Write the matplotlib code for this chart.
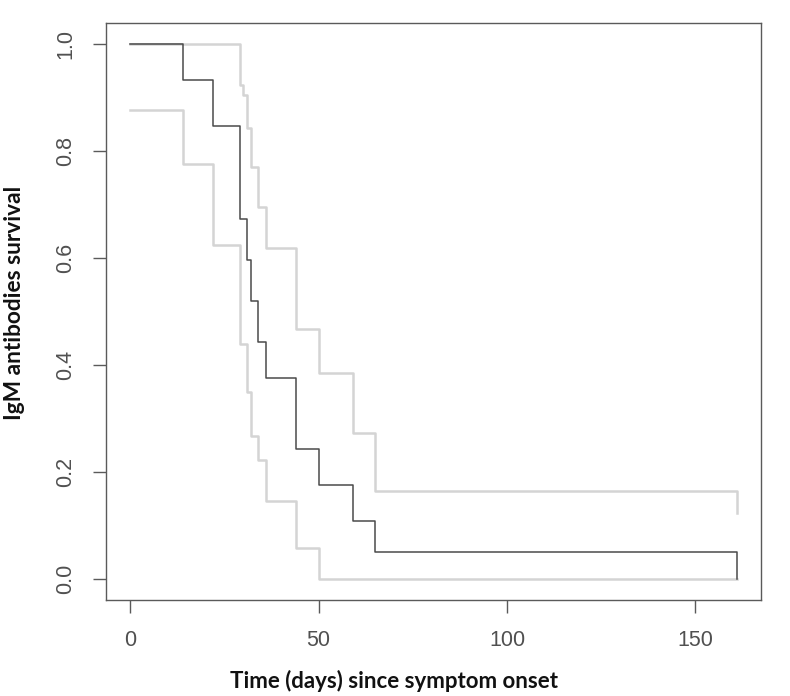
import matplotlib
matplotlib.use("Agg")
import matplotlib.pyplot as plt

# Kaplan-Meier estimate of IgM antibody persistence
km_days = [0, 14, 22, 29, 31, 32, 34, 36, 44, 50, 59, 65, 161, 161]
km_surv = [1.0, 0.933, 0.846, 0.672, 0.596, 0.520, 0.443, 0.376, 0.243, 0.175, 0.108, 0.049, 0.049, 0.0]

upper_days = [0, 29, 30, 31, 32, 34, 36, 44, 50, 59, 65, 161, 161]
upper_surv = [1.0, 0.923, 0.905, 0.842, 0.770, 0.695, 0.619, 0.467, 0.384, 0.273, 0.163, 0.163, 0.123]

lower_days = [0, 14, 22, 29, 31, 32, 34, 36, 44, 50, 161]
lower_surv = [0.877, 0.776, 0.624, 0.439, 0.349, 0.267, 0.221, 0.146, 0.057, 0.0, 0.0]

x_ticks = [0, 50, 100, 150]
y_ticks = [0.0, 0.2, 0.4, 0.6, 0.8, 1.0]

axis_col = "#5a5a5a"

fig = plt.figure(figsize=(7.9, 6.96), dpi=100)
ax = fig.add_axes([106 / 790, 96 / 696, 655 / 790, 577.4 / 696])

ax.step(upper_days, upper_surv, where="post", color="#d4d4d4", lw=1.8)
ax.step(lower_days, lower_surv, where="post", color="#d4d4d4", lw=1.8)
ax.step(km_days, km_surv, where="post", color="#4a4a4a", lw=1.1)

ax.set_xlim(-6.44, 167.44)
ax.set_ylim(-0.04, 1.04)
ax.set_xticks(x_ticks)
ax.set_yticks(y_ticks)
ax.set_yticklabels(["%.1f" % v for v in y_ticks], rotation=90, va="center")

for s in ax.spines.values():
    s.set_color(axis_col)
    s.set_linewidth(1.0)
ax.tick_params(direction="out", length=9.5, width=1.0, color=axis_col,
               labelcolor="#505050", labelsize=15.5)
ax.tick_params(axis="x", pad=12)
ax.tick_params(axis="y", pad=12)
for lab in ax.get_xticklabels() + ax.get_yticklabels():
    lab.set_fontfamily("Liberation Sans")

fig.text(394 / 790, 1 - 681 / 696, "Time (days) since symptom onset", ha="center", va="center",
         fontsize=16, fontweight="bold", family="Lato", color="#111111")
fig.text(15 / 790, 1 - 303 / 696, "IgM antibodies survival", ha="center", va="center", rotation=90,
         fontsize=16.3, fontweight="bold", family="Lato", color="#111111")

fig.savefig("out.png", dpi=100)
